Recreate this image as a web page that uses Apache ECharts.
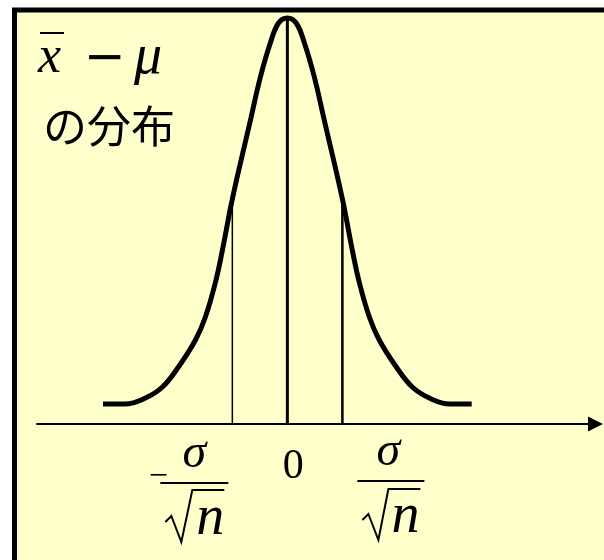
<!DOCTYPE html>
<html>
<head>
<meta charset="utf-8">
<script src="https://cdn.jsdelivr.net/npm/echarts@6/dist/echarts.min.js"></script>
<style>
  html, body { margin: 0; padding: 0; background: #ffffff; }
  #chart { width: 604px; height: 560px; }
</style>
</head>
<body>
<div id="chart"></div>
<script>
// Distribution of (x̄ − μ); horizontal unit = σ/√n
const curveX = [-3.35, -2.95, -2.58, -2.27, -1.98, -1.67, -1.49, -1.31, -1.18, -1.0, -0.67, -0.49, -0.31, -0.16, 0,
                0.16, 0.31, 0.49, 0.67, 1.0, 1.18, 1.31, 1.49, 1.67, 1.98, 2.27, 2.58, 2.95, 3.35];
const curveY = [0.20, 0.20, 0.26, 0.37, 0.57, 0.84, 1.07, 1.41, 1.74, 2.25, 3.04, 3.47, 3.81, 4.01, 4.06,
                4.01, 3.81, 3.47, 3.04, 2.25, 1.74, 1.41, 1.07, 0.84, 0.57, 0.37, 0.26, 0.20, 0.20];

// vertical guides at −σ/√n, 0, σ/√n (bottom on the axis, top on the curve)
const guideX = [-1, 0, 1];
const guideTop = [2.25, 4.06, 2.25];
const guideWidth = [1.5, 3, 2.5];

// tick positions and their labels
const tickValues = [-1, 0, 1];
const tickLabels = ['−σ/√n', '0', 'σ/√n'];

const titleMain = ['x', '−', 'μ'];
const titleSub = 'の分布';

const INK = '#000000';
const PAPER = '#FFFFCC';
const SERIF = '"Liberation Serif", "Times New Roman", serif';

const chart = echarts.init(document.getElementById('chart'), null, { renderer: 'canvas' });

const series = [{
  type: 'line',
  data: curveX.map((x, i) => [x, curveY[i]]),
  smooth: 0.4,
  showSymbol: false,
  lineStyle: { color: INK, width: 5, cap: 'butt', join: 'round' },
  z: 3
}];
guideX.forEach((x, i) => {
  series.push({
    type: 'line',
    data: [[x, 0], [x, guideTop[i]]],
    showSymbol: false,
    lineStyle: { color: INK, width: guideWidth[i] },
    z: 2
  });
});

chart.setOption({
  animation: false,
  backgroundColor: '#ffffff',
  grid: { left: 37, right: 8.5, top: 4, bottom: 136 },
  xAxis: {
    type: 'value',
    min: -4.55,
    max: 5.6,
    axisLine: {
      show: true,
      onZero: true,
      symbol: ['none', 'triangle'],
      symbolSize: [15, 15],
      lineStyle: { color: INK, width: 2 }
    },
    axisTick: { show: false },
    axisLabel: { show: false },
    splitLine: { show: false }
  },
  yAxis: {
    type: 'value',
    min: 0,
    max: 4.2,
    show: false,
    splitLine: { show: false }
  },
  series: series
});

// tick-anchored label positions from the axis scale
const baseY = chart.convertToPixel({ xAxisIndex: 0, yAxisIndex: 0 }, [0, 0])[1];
const tickPx = tickValues.map(v => chart.convertToPixel({ xAxisIndex: 0, yAxisIndex: 0 }, [v, 0])[0]);
const Lp = tickPx[0], Zp = tickPx[1], Rp = tickPx[2];

function txt(text, x, y, font, align) {
  return { type: 'text', x: x, y: y, z: 10,
    style: { text: text, font: font, fill: INK, align: align || 'center', verticalAlign: 'middle' } };
}
function seg(x1, y1, x2, y2, w) {
  return { type: 'line', z: 10, shape: { x1: x1, y1: y1, x2: x2, y2: y2 },
    style: { stroke: INK, lineWidth: w } };
}
function radical(pts) {
  return { type: 'polyline', z: 10, shape: { points: pts },
    style: { stroke: INK, lineWidth: 2, fill: null, lineJoin: 'miter' } };
}
function fraction(cx, barL, barR, barY, radPts, nx) {
  // σ over √n
  return [
    txt('σ', cx, barY - 29, 'italic 48px ' + SERIF),
    seg(barL, barY, barR, barY, 2),
    radical(radPts),
    txt('n', nx, barY + 36, 'italic 56px ' + SERIF)
  ];
}

const dy = baseY - 424;
const labelEls = []
  .concat([txt('−', Lp - 74, 477 + dy, '34px ' + SERIF)])
  .concat(fraction(Lp - 38, Lp - 72, Lp - 4, 483 + dy,
    [[Lp - 67, 522 + dy], [Lp - 61, 516 + dy], [Lp - 51, 542 + dy], [Lp - 40, 490 + dy], [Lp - 8, 490 + dy]],
    Lp - 22))
  .concat([txt(tickLabels[1], Zp + 6, 467 + dy, '42px ' + SERIF)])
  .concat(fraction(Rp + 46, Rp + 15, Rp + 82, 481 + dy,
    [[Rp + 20, 520 + dy], [Rp + 26, 514 + dy], [Rp + 36, 540 + dy], [Rp + 46, 489 + dy], [Rp + 78, 489 + dy]],
    Rp + 63));

chart.setOption({
  graphic: [
    { type: 'rect', z: -10, silent: true,
      shape: { x: 14.5, y: 10, width: 700, height: 700 },
      style: { fill: PAPER, stroke: INK, lineWidth: 5 } },
    // heading: x̄ − μ / の分布
    txt(titleMain[0], 38, 58, 'italic 52px ' + SERIF, 'left'),
    seg(40, 33, 64, 33, 2),
    txt(titleMain[1], 105, 60, '50px "DejaVu Sans", sans-serif'),
    txt(titleMain[2], 134, 58, 'italic 56px ' + SERIF, 'left'),
    txt(titleSub, 43, 126, '44px "Noto Sans CJK JP", sans-serif', 'left')
  ].concat(labelEls)
});
</script>
</body>
</html>
